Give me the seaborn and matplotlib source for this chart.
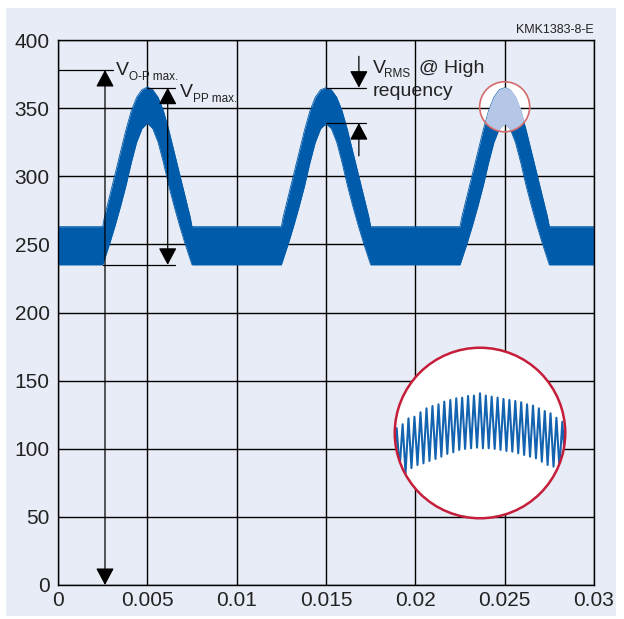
import matplotlib
matplotlib.use("Agg")
import matplotlib.pyplot as plt
from matplotlib import font_manager
import seaborn as sns
import pandas as pd
from matplotlib.patches import Ellipse, Circle, Rectangle

# ---------------- data ----------------
x_ticks = [0, 0.005, 0.01, 0.015, 0.02, 0.025, 0.03]
x_tick_labels = ["0", "0.005", "0.01", "0.015", "0.02", "0.025", "0.03"]
y_ticks = [0, 50, 100, 150, 200, 250, 300, 350, 400]
y_tick_labels = ["0", "50", "100", "150", "200", "250", "300", "350", "400"]

# main waveform band (time in s, voltage in V)
wave_t = [0.0,
          0.0025, 0.0026, 0.0029, 0.0032, 0.0035, 0.0038, 0.0041, 0.0044, 0.0047, 0.0050,
          0.0053, 0.0056, 0.0059, 0.0062, 0.0065, 0.0068, 0.0071, 0.0074, 0.0075,
          0.0125, 0.0126, 0.0129, 0.0132, 0.0135, 0.0138, 0.0141, 0.0144, 0.0147, 0.0150,
          0.0153, 0.0156, 0.0159, 0.0162, 0.0165, 0.0168, 0.0171, 0.0174, 0.0175,
          0.0225, 0.0226, 0.0229, 0.0232, 0.0235, 0.0238, 0.0241, 0.0244, 0.0247, 0.0250,
          0.0253, 0.0256, 0.0259, 0.0262, 0.0265, 0.0268, 0.0271, 0.0274, 0.0275,
          0.0300]
wave_upper = [263,
              263, 270, 286, 302, 318, 334, 348, 358, 363.5, 365.5,
              363.5, 358, 348, 334, 318, 302, 286, 270, 263,
              263, 270, 286, 302, 318, 334, 348, 358, 363.5, 365,
              363.5, 358, 348, 334, 318, 302, 286, 270, 263,
              263, 270, 286, 302, 318, 334, 348, 358, 363.5, 365,
              363.5, 358, 348, 334, 318, 302, 286, 270, 263,
              263]
wave_lower = [235,
              235, 239, 251, 264, 278, 293, 310, 325, 335, 339,
              335, 325, 310, 293, 278, 264, 251, 239, 235,
              235, 239, 251, 264, 278, 293, 310, 325, 335, 338.5,
              335, 325, 310, 293, 278, 264, 251, 239, 235,
              235, 239, 251, 264, 278, 293, 310, 325, 335, 339,
              335, 325, 310, 293, 278, 264, 251, 239, 235,
              235]

# magnified ripple at the peak (time offset in microseconds, voltage in V)
zig_top_t = [-1341, -1245, -1151, -1055, -958, -861, -765, -668, -575, -478,
             -382, -287, -192, -97, 0, 93, 188, 283, 378, 473,
             568, 663, 757, 853, 947, 1042, 1135, 1230, 1325]
zig_top_v = [348.3, 350.2, 353.0, 353.8, 355.9, 357.8, 358.9, 359.7, 361.0, 361.8,
             362.6, 362.9, 363.7, 363.9, 365.0, 363.9, 363.4, 362.9, 362.3, 361.8,
             361.3, 360.7, 359.7, 359.1, 357.8, 356.5, 355.4, 353.3, 351.4]
zig_bot_t = [-1390, -1293, -1198, -1103, -1006, -910, -813, -716, -622, -526,
             -430, -334, -240, -144, -48, 47, 140, 236, 330, 425,
             520, 615, 710, 805, 900, 995, 1088, 1183, 1278, 1375]
zig_bot_v = [330.3, 329.2, 326.8, 329.2, 330.7, 331.5, 332.6, 333.6, 334.7, 336.0,
             336.8, 337.9, 338.4, 338.7, 339.0, 338.7, 338.7, 338.4, 337.9, 337.4,
             337.1, 336.3, 335.5, 334.7, 333.9, 332.3, 330.7, 329.9, 329.2, 328.3]

# annotation levels
v_op_max = 378
v_pp_top = 365
v_pp_bottom = 235
v_rms_top = 365
v_rms_bottom = 339

# ---------------- style ----------------
BG = "#e8ecf7"
BLUE = "#005baa"
LIGHT_BLUE = "#b6c6e6"
TXT = "#222222"

sns.set_theme(style="white")

try:
    font_manager.findfont("Liberation Sans Narrow", fallback_to_default=False)
    NARROW = True
except Exception:
    NARROW = False

if NARROW:
    plt.rcParams['font.family'] = ['Liberation Sans Narrow', 'Liberation Sans', 'DejaVu Sans']
    FS_TICK, FS_BIG, FS_SUB, FS_ID = 16, 16, 10, 10.5
else:
    plt.rcParams['font.family'] = ['Liberation Sans', 'DejaVu Sans']
    FS_TICK, FS_BIG, FS_SUB, FS_ID = 15, 14, 8.5, 9

W, H = 624, 619
fig = plt.figure(figsize=(W / 100, H / 100), dpi=100)
fig.patch.set_facecolor("white")
fig.add_artist(Rectangle((6 / W, 3 / H), 610 / W, 608 / H, transform=fig.transFigure,
                         facecolor=BG, edgecolor="none", zorder=0))

ax = fig.add_axes([58 / W, 34 / H, 536 / W, 545 / H])
ax.set_facecolor(BG)
ax.set_xlim(0, 0.03)
ax.set_ylim(0, 400)
ax.set_xticks(x_ticks)
ax.set_xticklabels(x_tick_labels)
ax.set_yticks(y_ticks)
ax.set_yticklabels(y_tick_labels)
ax.tick_params(axis="both", length=0, labelsize=FS_TICK, colors=TXT)
ax.tick_params(axis="y", pad=6)
ax.tick_params(axis="x", pad=4)
ax.set_axisbelow(True)
ax.grid(True, color="black", lw=1.0)
for s in ax.spines.values():
    s.set_color("black")
    s.set_linewidth(1.0)
    s.set_visible(True)

# small highlight circle (white background)
small_c = dict(xy=(0.025, 351), width=0.0028, height=36.7)
ax.add_patch(Ellipse(**small_c, facecolor="white", edgecolor="none", zorder=0.2))

df = pd.DataFrame({"t": wave_t, "upper": wave_upper, "lower": wave_lower})
ax.fill_between(df["t"], df["lower"], df["upper"], color=BLUE, lw=0, zorder=2)
sns.lineplot(data=df, x="t", y="upper", ax=ax, color=BLUE, lw=0.6, zorder=2,
             estimator=None, sort=False)
sns.lineplot(data=df, x="t", y="lower", ax=ax, color=BLUE, lw=0.6, zorder=2,
             estimator=None, sort=False)
ax.set_xlabel("")
ax.set_ylabel("")

clip_e = Ellipse(**small_c, facecolor="none", edgecolor="none")
ax.add_patch(clip_e)
hl = ax.fill_between(df["t"], df["lower"], df["upper"], color=LIGHT_BLUE, lw=0.8,
                     edgecolor=LIGHT_BLUE, zorder=2.1)
hl.set_clip_path(clip_e)
ax.add_patch(Ellipse(**small_c, facecolor="none", edgecolor="#d36b6b", lw=1.2, zorder=3))

# ---------------- annotations ----------------
def hline(y, x0, x1):
    ax.plot([x0, x1], [y, y], color="black", lw=0.9, zorder=4)

def arrow(x, y_from, y_to, style):
    ax.annotate("", xy=(x, y_to), xytext=(x, y_from),
                arrowprops=dict(arrowstyle=style + ",head_length=10.5,head_width=5.6",
                                color="black", lw=0.9, shrinkA=0, shrinkB=0,
                                mutation_scale=1),
                zorder=4)

# V O-P max
hline(v_op_max, 0, 0.0031)
arrow(0.00263, 0, v_op_max, "<|-|>")
# V PP max
hline(v_pp_top, 0.005, 0.00655)
hline(v_pp_bottom, 0.00252, 0.00655)
arrow(0.00614, v_pp_bottom, v_pp_top, "<|-|>")
# V RMS
hline(v_rms_top, 0.015, 0.01725)
hline(v_rms_bottom, 0.015, 0.01725)
arrow(0.01684, 388, v_rms_top, "-|>")
arrow(0.01684, 315, v_rms_bottom, "-|>")

tk = dict(color=TXT, ha="left", va="baseline", zorder=5)
ax.text(0.00325, 374.3, "V", fontsize=FS_BIG, **tk)
ax.text(0.00400, 370.8, "O-P max.", fontsize=FS_SUB, **tk)
ax.text(0.00683, 358.2, "V", fontsize=FS_BIG, **tk)
ax.text(0.00758, 354.6, "PP max.", fontsize=FS_SUB, **tk)
ax.text(0.01763, 375.8, "V", fontsize=FS_BIG, **tk)
ax.text(0.01825, 372.6, "RMS", fontsize=FS_SUB, **tk)
ax.text(0.02020, 375.8, "@ High", fontsize=FS_BIG, **tk)
ax.text(0.01763, 358.9, "requency", fontsize=FS_BIG, **tk)

fig.text(594 / W, (619 - 33) / H, "KMK1383-8-E", fontsize=FS_ID, color=TXT,
         ha="right", va="baseline")

# ---------------- magnified inset ----------------
ax2 = fig.add_axes([393 / W, 99 / H, 174 / W, 174 / H])
ax2.set_xlim(-1400, 1400)
ax2.set_ylim(304.4, 387.6)
ax2.axis("off")
circ = Circle((0.5, 0.5), 0.49, transform=ax2.transAxes, facecolor="white",
              edgecolor="none", zorder=1)
ax2.add_patch(circ)
zt, zv = [], []
for i in range(len(zig_bot_t)):
    zt.append(zig_bot_t[i]); zv.append(zig_bot_v[i])
    if i < len(zig_top_t):
        zt.append(zig_top_t[i]); zv.append(zig_top_v[i])
zdf = pd.DataFrame({"t": zt, "v": zv})
sns.lineplot(data=zdf, x="t", y="v", ax=ax2, color="#1463b0", lw=1.5,
             estimator=None, sort=False, zorder=2)
ax2.lines[-1].set_clip_path(circ)
ax2.add_patch(Circle((0.5, 0.5), 0.49, transform=ax2.transAxes, facecolor="none",
                     edgecolor="#c41e3a", lw=1.8, zorder=3))
ax2.set_xlabel("")
ax2.set_ylabel("")

fig.savefig("out.png", dpi=100)
